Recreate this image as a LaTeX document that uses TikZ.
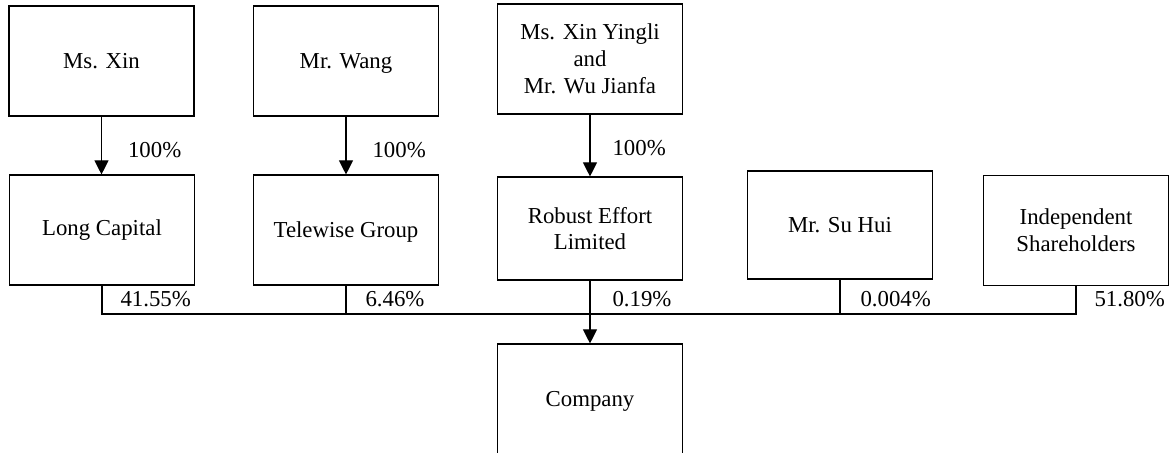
\documentclass[tikz,border=0pt]{standalone}
\usepackage{fontspec}
\setmainfont{Liberation Serif}
\usetikzlibrary{positioning,calc,arrows.meta}

\newcommand{\nodepth}[1]{\raisebox{0pt}[\height][0pt]{#1}}

\begin{document}
\begin{tikzpicture}[x=0.5pt, y=-0.5pt, line width=0.55pt,
    holder/.style={draw, align=center, minimum width=92.5pt, minimum height=55pt,
        inner sep=2pt, font=\fontsize{11.4}{13.4}\selectfont},
    pct/.style={anchor=base west, inner sep=0pt, font=\fontsize{11.4}{13.4}\selectfont},
    arr/.style={-{Triangle[length=7pt,width=7pt]}}]
    \useasboundingbox (0,0) rectangle (1169,453);

    % Owners
    \node[holder] (xin) at (101.5,61) {Ms. Xin};
    \node[holder] (wang) at (346,61) {\nodepth{Mr. Wang}};
    \node[holder] (yingli) at (590,59) {Ms. Xin Yingli\\and\\Mr. Wu Jianfa};

    % Shareholders
    \node[holder] (longcap) at (102,230) {Long Capital};
    \node[holder] (telewise) at (346,230) {\nodepth{Telewise Group}};
    \node[holder, minimum height=51.5pt] (robust) at (590,228.5) {Robust Effort\\Limited};
    \node[holder, minimum height=54pt] (suhui) at (840,225) {Mr. Su Hui};
    \node[holder] (indep) at (1076,230.5) {Independent\\Shareholders};

    % Company
    \node[holder, minimum height=57pt] (company) at (590,401) {Company};

    % 100% holdings
    \foreach \src/\dst/\dx/\n in {xin/longcap/26/a, wang/telewise/26/b, yingli/robust/22/c} {
        \draw[arr] (\src.south) -- (\src.south |- \dst.north);
        \node[pct] (own\n) at ($(\src.south)+(\dx,41)$) {100\%};
    }

    % Holdings in the company
    \coordinate (bus) at (590,314);
    \draw (longcap.south) |- (bus);
    \draw (telewise.south) |- (bus);
    \draw (suhui.south) |- (bus);
    \draw (indep.south) |- (bus);
    \draw[arr] (robust.south) -- (company.north);

    \node[pct] (plong) at ($(longcap.south |- bus)+(18,-7)$) {41.55\%};
    \node[pct] (ptele) at ($(telewise.south |- bus)+(19,-7)$) {6.46\%};
    \node[pct] (prob) at ($(robust.south |- bus)+(22,-7)$) {0.19\%};
    \node[pct] (psu) at ($(suhui.south |- bus)+(20,-7)$) {0.004\%};
    \node[pct] (pind) at ($(indep.south |- bus)+(18,-7)$) {51.80\%};
\end{tikzpicture}
\end{document}
